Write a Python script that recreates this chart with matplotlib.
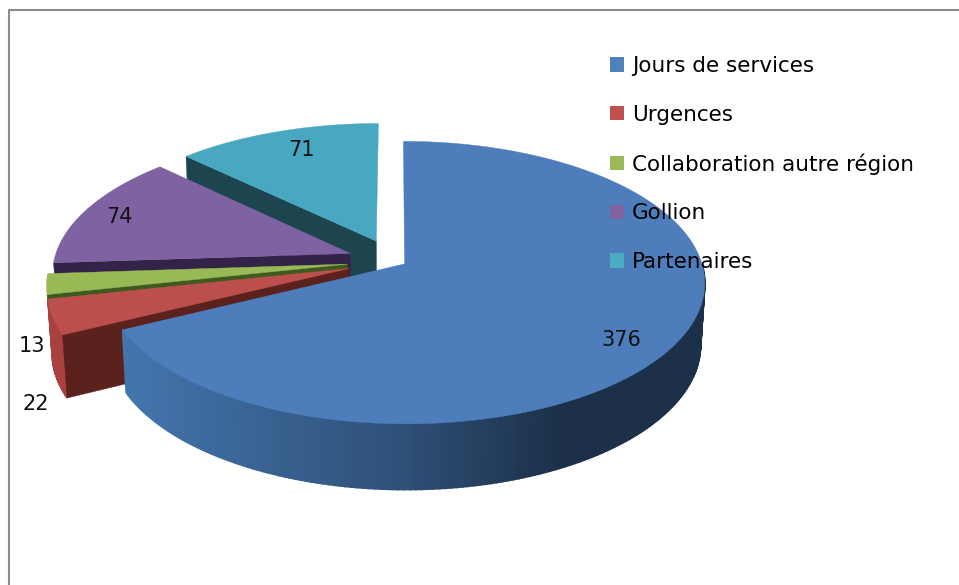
import numpy as np
import matplotlib
matplotlib.use('Agg')
import matplotlib.pyplot as plt
from matplotlib.colors import to_rgb
from matplotlib.patches import Patch

categories = ['Jours de services', 'Urgences', 'Collaboration autre région', 'Gollion', 'Partenaires']
values = [376, 22, 13, 74, 71]

top_colors = ['#4D7EBB', '#BC4F4B', '#98B955', '#7F62A1', '#48A8C2']
wall_colors = ['#2A4A70', '#5A211D', '#3F5A1E', '#332348', '#1C4550']
# los sectores de atras no muestran pared exterior
rim_colors = ['#2A4A70', '#A9423E', None, None, None]
legend_colors = ['#4F81BD', '#C0504D', '#9BBB59', '#8064A2', '#4BACC6']
explode = [0.04, 0.16, 0.16, 0.16, 0.16]

# etiquetas de datos, en pixeles de la imagen
label_pos = [(621, 340), (36, 404), (32, 346), (119, 217), (302, 150)]

# proyeccion del disco 3D (plano superior e inferior)
CX, CY = 394.5, 261
A_TOP, B_TOP = 296.5, 138
A_BOT, B_BOT = 292.5, 142
DEPTH = 61
K = 0.132


def proyectar(u, v, plano='top'):
    w = 1 + K * v
    if plano == 'top':
        return CX + A_TOP * u / w, CY - B_TOP * v / w
    return CX + A_BOT * u / w, CY + DEPTH - B_BOT * v / w


def color_pared_azul(x):
    # degradado de la pared del sector grande, segun x en pantalla
    stops_x = [125, 400, 560, 710]
    stops = [to_rgb(c) for c in ['#4375AD', '#2F5078', '#1C3049', '#1C3049']]
    return tuple(np.interp(x, stops_x, [s[i] for s in stops]) for i in range(3))


def dibujar_sector(ax, i, start, end):
    mid = (start + end) / 2
    ou = explode[i] * np.sin(mid)
    ov = explode[i] * np.cos(mid)
    th = np.linspace(start, end, max(int(np.degrees(end - start)), 4) + 1)
    u = ou + np.sin(th)
    v = ov + np.cos(th)
    xt, yt = proyectar(u, v, 'top')
    xb, yb = proyectar(u, v, 'bot')
    ax0, ay0 = proyectar(ou, ov, 'top')
    bx0, by0 = proyectar(ou, ov, 'bot')

    # pared exterior, solo la parte que mira al frente
    if rim_colors[i] is not None:
        for j in range(len(th) - 1):
            if np.cos(th[j]) > 0:
                continue
            c = color_pared_azul((xt[j] + xt[j + 1]) / 2) if i == 0 else rim_colors[i]
            ax.fill([xt[j], xt[j + 1], xb[j + 1], xb[j]],
                    [yt[j], yt[j + 1], yb[j + 1], yb[j]], color=c, lw=1.2)

    # pared radial visible
    if i != 0:
        ax.fill([ax0, xt[0], xb[0], bx0], [ay0, yt[0], yb[0], by0], color=wall_colors[i], lw=0.3)

    # cara superior
    ax.fill(np.r_[ax0, xt], np.r_[ay0, yt], color=top_colors[i], lw=0.3)


fig = plt.figure(figsize=(9.59, 5.85), dpi=100)
ax = fig.add_axes([0, 0, 1, 1])
ax.set_xlim(0, 959)
ax.set_ylim(585, 0)
ax.axis('off')

# marco del grafico
ax.plot([9, 9, 959], [585, 10, 10], color='#8C8C8C', lw=1.5)

total = sum(values)
bordes = 2 * np.pi * np.cumsum([0] + values) / total

# de atras hacia adelante
for i in [4, 3, 2, 1, 0]:
    dibujar_sector(ax, i, bordes[i], bordes[i + 1])

for val, (x, y) in zip(values, label_pos):
    ax.text(x, y, str(val), ha='center', va='center', fontsize=15, color='#111111')

handles = [Patch(facecolor=c, edgecolor='none') for c in legend_colors]
ax.legend(handles, categories, loc='upper left', bbox_to_anchor=(610 / 959, 1 - 56 / 585),
          frameon=False, fontsize=15.5, handlelength=0.65, handleheight=0.65,
          handletextpad=0.37, labelspacing=1.33, borderpad=0, borderaxespad=0)

fig.savefig('out.png', dpi=100)
